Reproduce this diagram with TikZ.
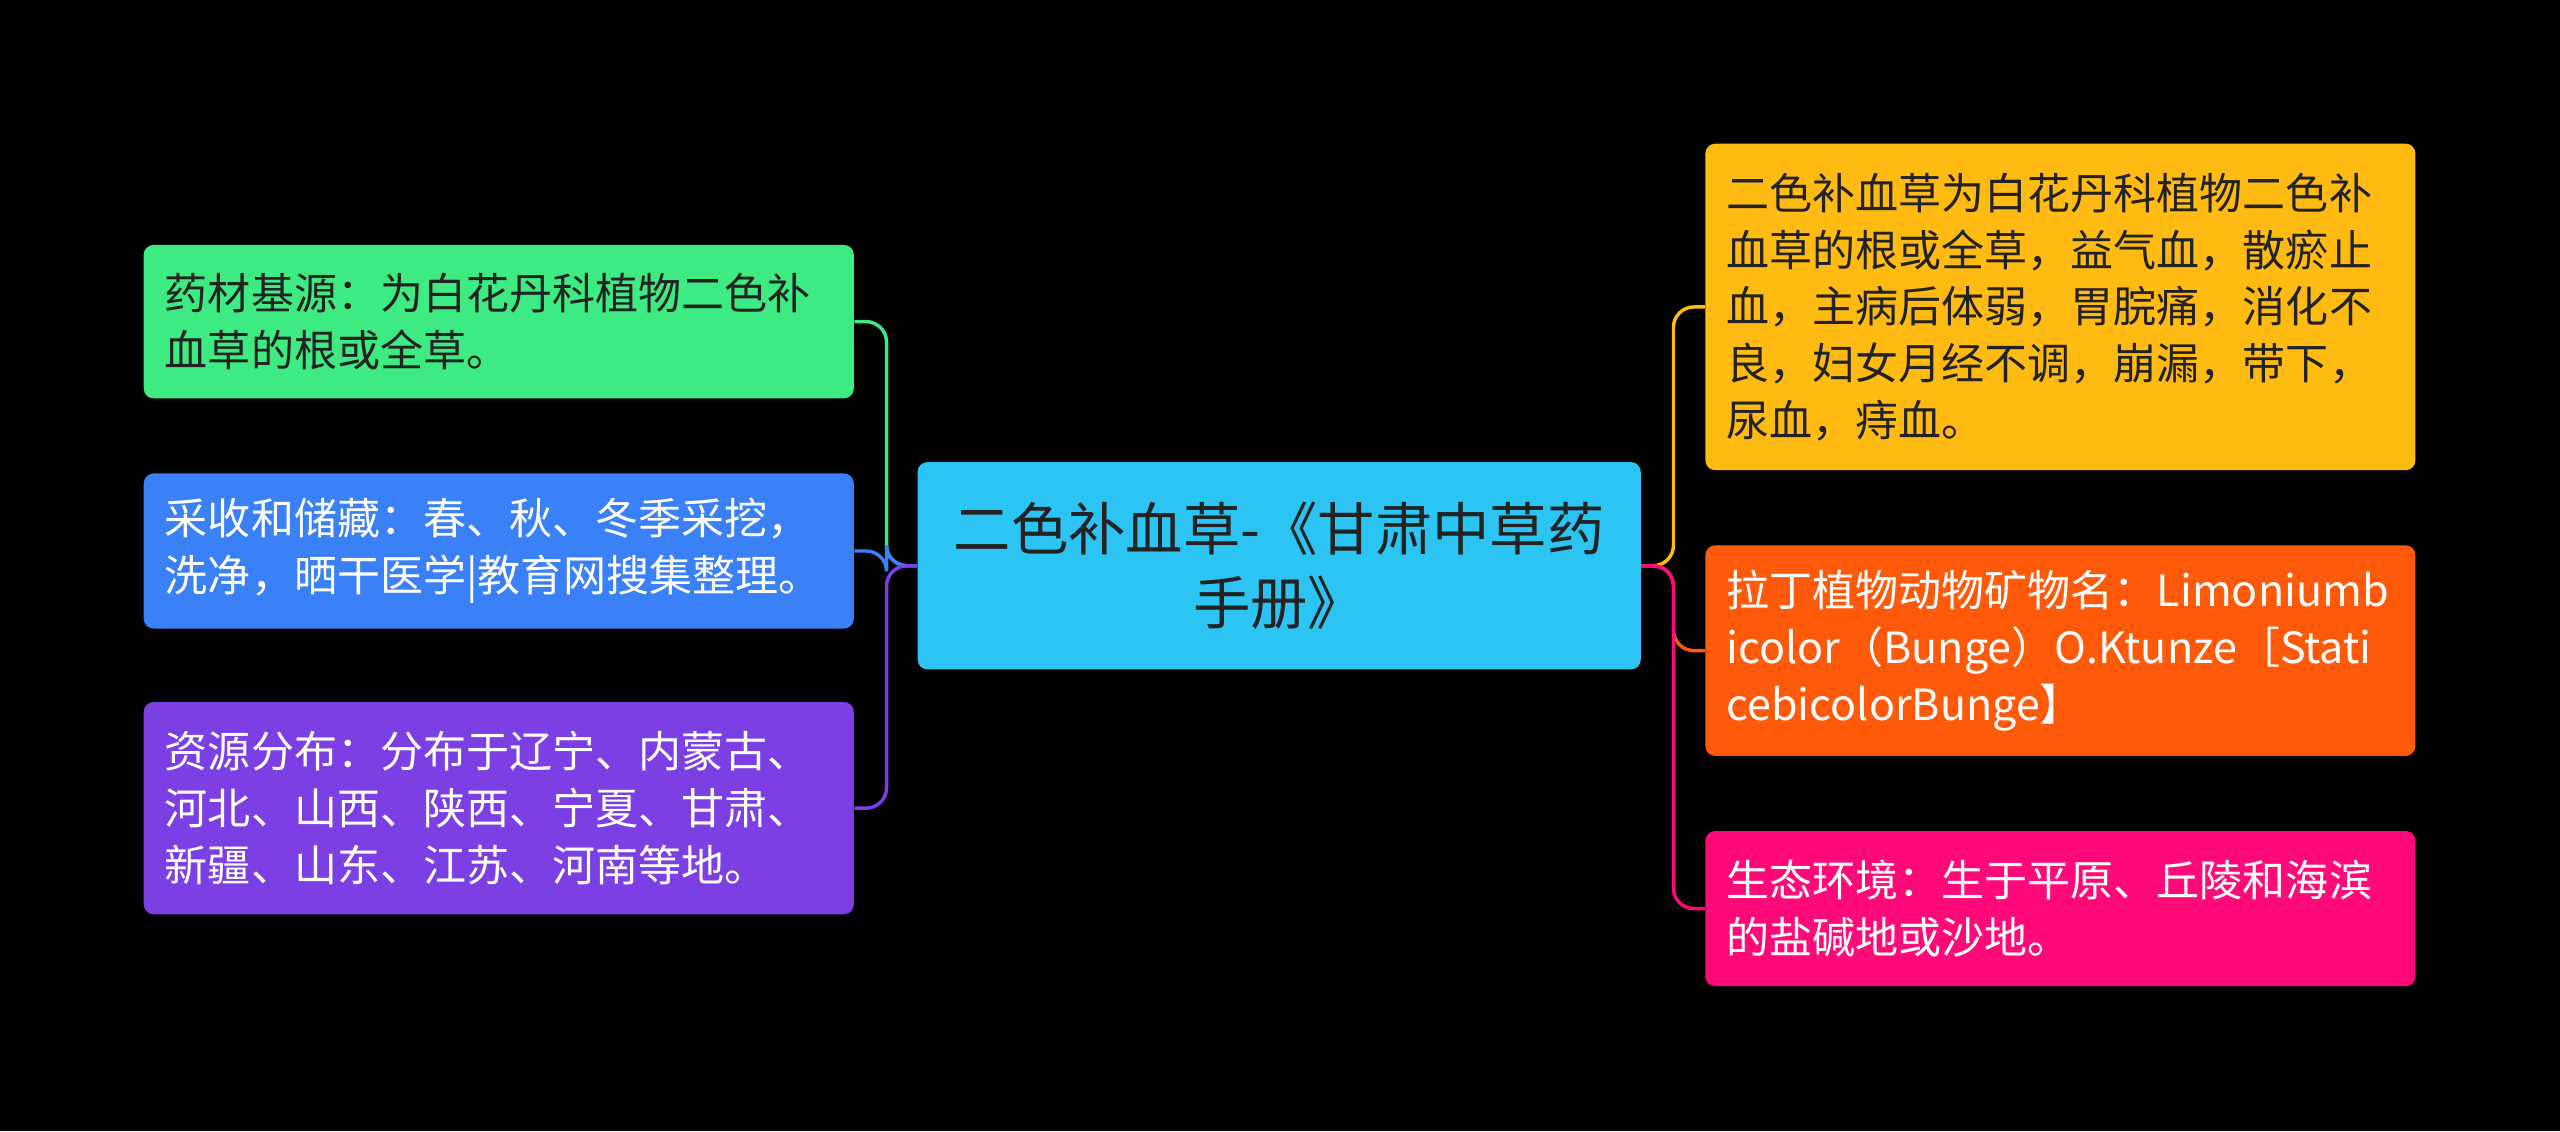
\documentclass[tikz,border=0pt]{standalone}
\usepackage{fontspec}
\setmainfont{Noto Sans CJK SC}
\definecolor{cCenter}{HTML}{2BC4F3}
\definecolor{cGreen}{HTML}{3DEB82}
\definecolor{cBlue}{HTML}{3A80F6}
\definecolor{cPurple}{HTML}{7B3FE4}
\definecolor{cYellow}{HTML}{FFBB12}
\definecolor{cOrange}{HTML}{FF5A0A}
\definecolor{cPink}{HTML}{FF0A78}
\definecolor{cText}{HTML}{222222}
\tikzset{
	leaf/.style={rounded corners=0.12cm, text width=8.18cm, inner xsep=0.26cm, inner ysep=0.1cm,
		align=left, font=\fontsize{15}{19.8}\selectfont},
	link/.style={line width=1.2pt, rounded corners=0.25cm},
}
\begin{document}
\begin{tikzpicture}[x=0.02cm,y=-0.02cm]
	\fill[black] (0,0) rectangle (1568,693) ;
	% center
	\node[fill=cCenter, rounded corners=0.12cm, minimum width=8.86cm, minimum height=2.54cm,
		align=center, text=cText, font=\fontsize{20}{26}\selectfont] (main) at (783.5,346.5)
		{二色补血草-《甘肃中草药\\手册》} ;
	% left side
	\node[leaf, fill=cGreen, text=cText, minimum height=1.88cm] (base) at (305.5,197) {药材基源：为白花丹科植物二色补\\血草的根或全草。} ;
	\node[leaf, fill=cBlue, text=white, minimum height=1.9cm] (harvest) at (305.5,337.5) {采收和储藏：春、秋、冬季采挖，\\洗净，晒干医学|教育网搜集整理。} ;
	\node[leaf, fill=cPurple, text=white, minimum height=2.6cm] (area) at (305.5,495) {资源分布：分布于辽宁、内蒙古、\\河北、山西、陕西、宁夏、甘肃、\\新疆、山东、江苏、河南等地。} ;
	% right side
	\node[leaf, fill=cYellow, text=cText, minimum height=4cm] (effect) at (1262,188) {二色补血草为白花丹科植物二色补\\血草的根或全草，益气血，散瘀止\\血，主病后体弱，胃脘痛，消化不\\良，妇女月经不调，崩漏，带下，\\尿血，痔血。} ;
	\node[leaf, fill=cOrange, text=white, minimum height=2.58cm] (latin) at (1262,398.5) {拉丁植物动物矿物名：Limoniumb\\icolor（Bunge）O.Ktunze［Stati\\cebicolorBunge】} ;
	\node[leaf, fill=cPink, text=white, minimum height=1.9cm] (habitat) at (1262,556.5) {生态环境：生于平原、丘陵和海滨\\的盐碱地或沙地。} ;
	% connectors
	\coordinate (lj) at (543,346.5) ;
	\coordinate (rj) at (1025,346.5) ;
	\draw[link, cGreen] (main.west) -- (lj) |- (base.east) ;
	\draw[link, cBlue] (main.west) -- (lj) |- (harvest.east) ;
	\draw[link, cPurple] (main.west) -- (lj) |- (area.east) ;
	\draw[link, cYellow] (main.east) -- (rj) |- (effect.west) ;
	\draw[link, cOrange] (main.east) -- (rj) |- (latin.west) ;
	\draw[link, cPink] (main.east) -- (rj) |- (habitat.west) ;
\end{tikzpicture}
\end{document}
